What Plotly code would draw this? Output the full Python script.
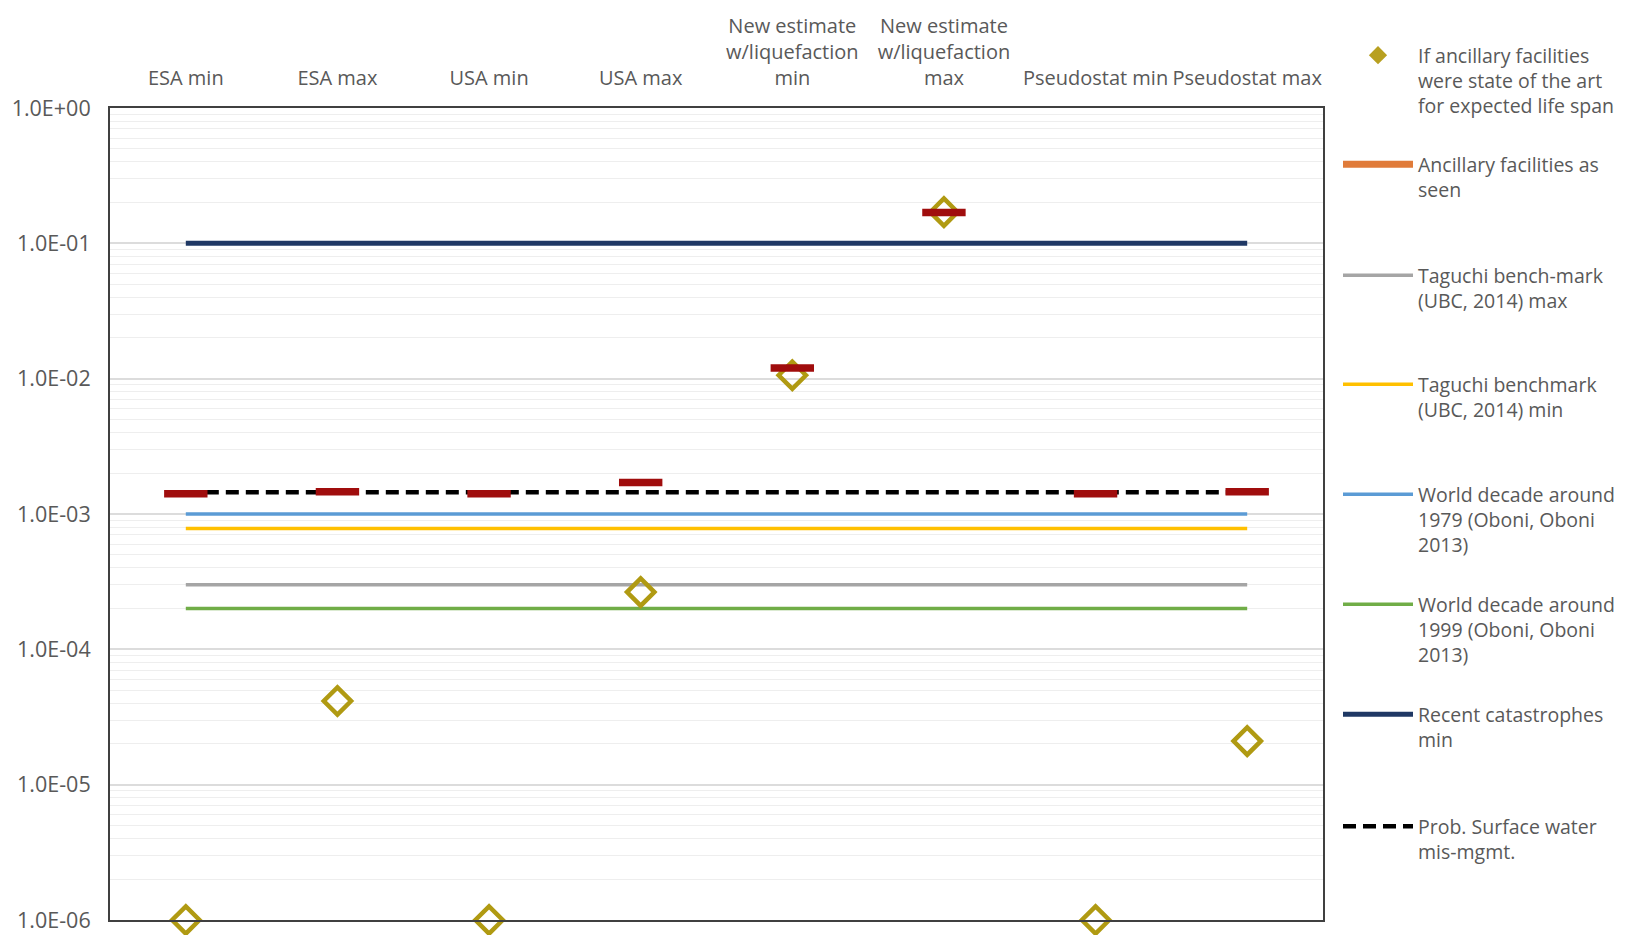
import plotly.graph_objects as go

# ---------------- data ----------------
categories = ["ESA min", "ESA max", "USA min", "USA max",
              "New estimate<br>w/liquefaction<br>min",
              "New estimate<br>w/liquefaction<br>max",
              "Pseudostat min", "Pseudostat max"]

state_of_art = [1.0e-6, 4.15e-5, 1.0e-6, 2.65e-4, 1.06e-2, 1.70e-1, 1.0e-6, 2.1e-5]
as_seen = [1.41e-3, 1.46e-3, 1.41e-3, 1.71e-3, 1.20e-2, 1.69e-1, 1.41e-3, 1.46e-3]

line_names = ["Taguchi bench-mark<br>(UBC, 2014) max",
              "Taguchi benchmark<br>(UBC, 2014) min",
              "World decade around<br>1979 (Oboni, Oboni<br>2013)",
              "World decade around<br>1999 (Oboni, Oboni<br>2013)",
              "Recent catastrophes<br>min",
              "Prob. Surface water<br>mis-mgmt."]
line_values = [3.0e-4, 7.8e-4, 1.0e-3, 2.0e-4, 1.0e-1, 1.45e-3]

ytick_vals = [1, 1e-1, 1e-2, 1e-3, 1e-4, 1e-5, 1e-6]
ytick_text = ["1.0E+00", "1.0E-01", "1.0E-02", "1.0E-03", "1.0E-04", "1.0E-05", "1.0E-06"]

# ---------------- styles ----------------
line_colors = ["#A5A5A5", "#FFC000", "#5B9BD5", "#70AD47", "#1F3864", "#000000"]
line_widths = [3.5, 3.5, 3.5, 3.5, 5, 4.5]
line_dashes = ["solid", "solid", "solid", "solid", "solid", "13px,7px"]
draw_order = [4, 3, 0, 1, 2, 5]   # drawing order of the reference lines

OFF = 8                      # page body margin
W, H = 1626 - 2 * OFF, 943 - 2 * OFF
FONT = "Open Sans"
TXT = "#595959"

fig = go.Figure()

# reference lines (from first to last category)
for i in draw_order:
    fig.add_trace(go.Scatter(
        x=[categories[0], categories[-1]], y=[line_values[i], line_values[i]],
        mode="lines", name=line_names[i],
        line=dict(color=line_colors[i], width=line_widths[i], dash=line_dashes[i]),
        legend="legend%d" % (i + 3), showlegend=True, hoverinfo="skip"))

# diamonds
fig.add_trace(go.Scatter(
    x=categories, y=state_of_art, mode="markers", showlegend=False,
    name="If ancillary facilities were state of the art for expected life span",
    marker=dict(symbol="diamond-open", size=21, color="#B09A12",
                line=dict(color="#B09A12", width=4.5)),
    cliponaxis=False))

# red bars
fig.add_trace(go.Scatter(
    x=categories, y=as_seen, mode="markers", showlegend=False,
    name="Ancillary facilities as seen",
    marker=dict(symbol="line-ew", size=31, color="#A00D0D",
                line=dict(color="#A00D0D", width=7.5)),
    cliponaxis=False))

# legend entries for the two marker series (as drawn in the legend of the reference)
fig.add_trace(go.Scatter(
    x=[None], y=[None], mode="markers",
    name="If ancillary facilities<br>were state of the art<br>for expected life span",
    marker=dict(symbol="diamond", size=14, color="#B8A020"),
    legend="legend1"))
fig.add_trace(go.Scatter(
    x=[None], y=[None], mode="lines",
    name="Ancillary facilities as<br>seen",
    line=dict(color="#E07B39", width=7),
    legend="legend2"))

# legend positions (first text line centres, px from top of window)
legend_tops = [55, 164, 275, 384, 494, 604, 714, 826]
legend_x_px = 1330
layout_legends = {}
for k, py in enumerate(legend_tops):
    key = "legend" if k == 0 else "legend%d" % (k + 1)
    layout_legends[key] = dict(
        x=legend_x_px / W, y=1 - (py - 27) / H, xref="container", yref="container",
        xanchor="left", yanchor="top", valign="top", itemwidth=70,
        bgcolor="rgba(0,0,0,0)", font=dict(family=FONT, size=19.5, color=TXT))

fig.update_layout(
    width=W, height=H,
    margin=dict(l=110 - OFF, r=W - (1323 - OFF), t=108 - OFF, b=H - (920 - OFF),
                autoexpand=False),
    paper_bgcolor="white", plot_bgcolor="white",
    font=dict(family=FONT, size=20, color=TXT),
    xaxis=dict(type="category", categoryorder="array", categoryarray=categories,
               side="top", range=[-0.5, 7.5], showgrid=False,
               showline=True, linecolor="#404040", linewidth=2, mirror=True,
               ticks="", tickfont=dict(family=FONT, size=20, color=TXT),
               ticklabelstandoff=13),
    yaxis=dict(type="log", range=[-6, 0], tickvals=ytick_vals, ticktext=ytick_text,
               showgrid=True, gridcolor="#DCDCDC", gridwidth=1.5,
               minor=dict(dtick="D1", showgrid=True, gridcolor="#EEEEEE", gridwidth=1),
               showline=True, linecolor="#404040", linewidth=2, mirror=True,
               ticks="", zeroline=False, ticklabelstandoff=13,
               tickfont=dict(family=FONT, size=21.5, color=TXT)),
    **layout_legends,
)

fig.write_html("out.html")
